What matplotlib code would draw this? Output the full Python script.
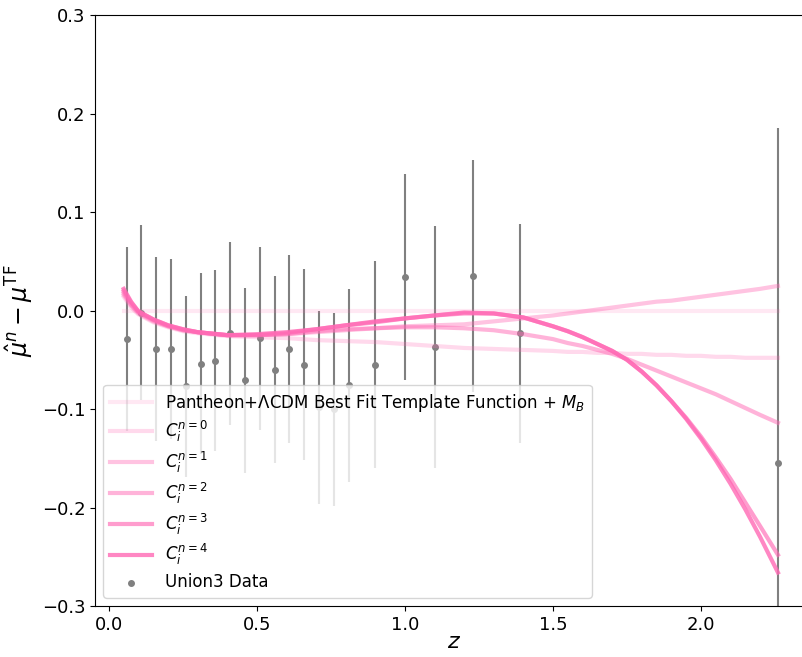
import matplotlib.pyplot as plt
import numpy as np

plt.rcParams['mathtext.fontset'] = 'dejavusans'

# Union3 binned residuals
z_data = [0.06, 0.11, 0.16, 0.21, 0.26, 0.31, 0.36, 0.41, 0.46, 0.51, 0.56,
          0.61, 0.66, 0.71, 0.76, 0.81, 0.90, 1.00, 1.10, 1.23, 1.39, 2.26]
mu_data = [-0.029, -0.002, -0.039, -0.039, -0.077, -0.054, -0.051, -0.023,
           -0.071, -0.028, -0.060, -0.039, -0.055, -0.098, -0.100, -0.076,
           -0.055, 0.034, -0.037, 0.035, -0.023, -0.155]
mu_err = [0.093, 0.089, 0.093, 0.091, 0.092, 0.092, 0.092, 0.093, 0.094,
          0.093, 0.095, 0.095, 0.097, 0.098, 0.098, 0.098, 0.105, 0.105,
          0.123, 0.118, 0.111, 0.340]

# curves
z_curve = [0.05, 0.075, 0.1, 0.15, 0.2, 0.25, 0.3, 0.4, 0.5, 0.6, 0.7, 0.8,
           0.9, 1.0, 1.1, 1.2, 1.3, 1.4, 1.5, 1.55, 1.6, 1.65, 1.7, 1.75, 1.8,
           1.85, 1.9, 1.95, 2.0, 2.05, 2.1, 2.15, 2.2, 2.26]
tf = [0.0] * len(z_curve)
c0 = [0.014, 0.003, -0.004, -0.012, -0.017, -0.021, -0.023, -0.026, -0.027,
      -0.028, -0.030, -0.031, -0.032, -0.034, -0.036, -0.038, -0.039, -0.040,
      -0.041, -0.042, -0.042, -0.043, -0.043, -0.044, -0.044, -0.045, -0.045,
      -0.046, -0.046, -0.047, -0.047, -0.048, -0.048, -0.048]
c1 = [0.016, 0.005, -0.003, -0.011, -0.016, -0.020, -0.022, -0.025, -0.025,
      -0.024, -0.022, -0.020, -0.018, -0.016, -0.015, -0.014, -0.011, -0.008,
      -0.005, -0.003, -0.001, 0.001, 0.003, 0.005, 0.007, 0.009, 0.010, 0.012,
      0.014, 0.016, 0.018, 0.020, 0.022, 0.025]
c2 = [0.018, 0.006, -0.002, -0.010, -0.016, -0.020, -0.022, -0.025, -0.025,
      -0.024, -0.021, -0.019, -0.018, -0.017, -0.017, -0.018, -0.020, -0.024,
      -0.029, -0.033, -0.036, -0.040, -0.044, -0.049, -0.055, -0.061, -0.067,
      -0.073, -0.079, -0.085, -0.092, -0.099, -0.106, -0.114]
c3 = [0.020, 0.008, -0.001, -0.009, -0.015, -0.019, -0.022, -0.025, -0.025,
      -0.023, -0.019, -0.015, -0.012, -0.008, -0.005, -0.003, -0.003, -0.007,
      -0.016, -0.021, -0.027, -0.034, -0.041, -0.050, -0.062, -0.076, -0.092,
      -0.109, -0.128, -0.149, -0.171, -0.195, -0.219, -0.248]
c4 = [0.022, 0.009, -0.001, -0.009, -0.015, -0.019, -0.022, -0.025, -0.024,
      -0.022, -0.019, -0.015, -0.011, -0.008, -0.005, -0.002, -0.003, -0.007,
      -0.016, -0.021, -0.027, -0.034, -0.041, -0.050, -0.062, -0.076, -0.092,
      -0.110, -0.130, -0.152, -0.176, -0.202, -0.230, -0.266]

curves = [c0, c1, c2, c3, c4]
alphas = [0.25, 0.4, 0.5, 0.65, 0.8]

fig = plt.figure(figsize=(8.03, 6.57), dpi=100)
ax = fig.add_axes([0.1183, 0.0776, 0.894, 0.8995])

ax.errorbar(z_data, mu_data, yerr=mu_err, fmt='none', ecolor='grey',
            elinewidth=1.5, zorder=1)
ax.scatter(z_data, mu_data, s=16, color='grey', label='Union3 Data', zorder=1)

ax.plot(z_curve, tf, color='hotpink', alpha=0.15, lw=3,
        label=r'Pantheon+$\Lambda$CDM Best Fit Template Function + $M_B$')
for n in range(5):
    ax.plot(z_curve, curves[n], color='hotpink', alpha=alphas[n], lw=3,
            label=r'$C_i^{n=%d}$' % n)

handles, labels = ax.get_legend_handles_labels()
order = [1, 2, 3, 4, 5, 6, 0]
ax.legend([handles[i] for i in order], [labels[i] for i in order],
          loc='lower left', fontsize=12, handlelength=2.5, labelspacing=0.34,
          bbox_to_anchor=(0.0, 0.0))

ax.set_xlim(-0.047, 2.378)
ax.set_ylim(-0.3, 0.3)
ax.set_xticks([0.0, 0.5, 1.0, 1.5, 2.0])
ax.set_yticks([-0.3, -0.2, -0.1, 0.0, 0.1, 0.2, 0.3])
ax.tick_params(labelsize=13)
ax.set_xlabel('$z$', fontsize=16, labelpad=-1)
ax.set_ylabel(r'$\hat{\mu}^n - \mu^{\rm TF}$', fontsize=17)

plt.savefig('out.png', dpi=100)
